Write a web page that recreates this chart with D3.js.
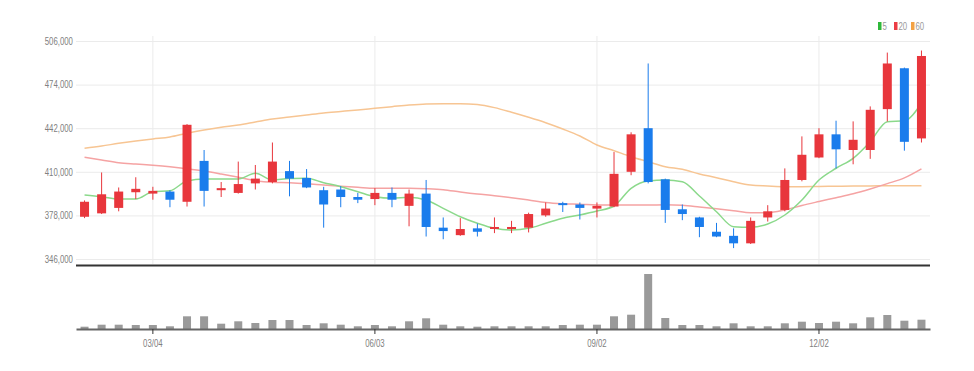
<!DOCTYPE html>
<html>
<head>
<meta charset="utf-8">
<script src="https://cdn.jsdelivr.net/npm/d3@7"></script>
<style>
  body { margin: 0; background: #fff; }
  .axis text { font-family: 'Liberation Sans', sans-serif; font-size: 10px; fill: #808080; }
  .legend text { font-family: 'Liberation Sans', sans-serif; font-size: 10px; fill: #999; }
</style>
</head>
<body>
<div class="candle-chart-container"></div>
<script>
// Weekly bars, Mondays 2024-02-05 .. 2025-01-13
const dates = ['02/05','02/12','02/19','02/26','03/04','03/11','03/18','03/25','04/01','04/08',
  '04/15','04/22','04/29','05/06','05/13','05/20','05/27','06/03','06/10','06/17',
  '06/24','07/01','07/08','07/15','07/22','07/29','08/05','08/12','08/19','08/26',
  '09/02','09/09','09/16','09/23','09/30','10/07','10/14','10/21','10/28','11/04',
  '11/11','11/18','11/25','12/02','12/09','12/16','12/23','12/30','01/06','01/13'];

const opens  = [377000,379500,383500,395000,394000,395500,388000,418000,396500,394500,
  401500,402500,410500,405500,396500,397000,391500,390000,394500,385000,
  394000,369000,363500,368500,368500,368000,369000,378000,387000,386000,
  383000,384500,410000,442000,404500,382500,376500,366000,363000,357500,
  376500,382000,404000,420500,437500,426000,426000,456000,486000,434500];
const highs  = [389000,409500,398500,406000,399000,396500,445000,426000,402500,417500,
  415000,431500,418000,412000,399000,399500,394500,398000,398500,397000,
  404000,376500,376000,372000,376500,374000,380000,387500,388000,387500,
  387500,424500,439000,489500,405000,386000,377000,372500,368500,376500,
  385500,412500,436000,442000,447500,447000,458000,497500,486500,499000];
const lows   = [376000,379000,381000,390000,389500,384000,384500,384500,391500,394000,
  397000,401500,392000,398000,369000,384000,387000,385500,384000,370000,
  362500,360500,363000,362500,365000,365000,365500,377000,380500,375000,
  376500,384000,407500,401500,372500,374500,362000,362000,354000,357000,
  373500,381000,403000,420000,412500,415500,419500,447000,425500,431500];
const closes = [388000,393500,395500,397500,396000,389500,444500,396000,398000,401000,
  405000,417500,405000,398500,386000,391500,389500,394500,389500,394000,
  369500,366500,368000,366000,369500,369500,379000,383000,386000,383500,
  385000,408500,437500,402500,382000,379000,369500,362500,357500,374000,
  381000,404000,422500,437500,426500,433500,455500,489500,432000,495000];
const volumes = [23000,43000,43000,40000,40000,27000,127000,127000,53000,77000,
  60000,90000,90000,40000,57000,43000,27000,40000,27000,77000,
  107000,43000,27000,23000,27000,27000,27000,27000,40000,43000,
  43000,127000,143000,550000,110000,40000,40000,27000,57000,27000,
  27000,57000,73000,60000,73000,57000,117000,140000,83000,93000];

// Moving averages as shown on the chart
const ma5  = [393000,391700,390000,390000,395400,396100,403300,404700,404700,404700,
  408900,404000,405100,405200,402000,399100,395400,391700,390600,391300,
  389300,383200,377000,372200,368500,367300,368500,372200,375900,378300,
  381200,384900,397900,403300,404000,402700,392200,380700,369700,369300,
  371700,378300,389300,404000,412600,419900,432100,446800,447500,460500];
const ma20 = [420600,418700,416700,415700,414800,413700,412300,410600,408400,406000,
  403500,402300,402000,401300,400300,399400,398600,397900,397900,397900,
  397600,396900,395200,393700,392500,391000,389300,387500,386600,386200,
  385600,385600,385600,385600,385800,385400,384200,382900,381500,380000,
  380000,382000,385300,388200,391000,393900,397400,401300,405500,412100];
const ma60 = [427300,428900,430900,432600,434100,435500,438300,440700,442700,444400,
  446600,448800,450200,451700,453200,454300,455400,456600,457800,459000,
  459800,460000,460000,459400,457100,453700,450000,446000,441400,436300,
  429700,425500,421100,417400,413700,411800,408400,405700,402700,400300,
  399600,399100,399100,399200,399400,399600,399600,399800,399800,399800];

const priceTicks = [346000,378000,410000,442000,474000,506000];
const dateTicks = ['03/04','06/03','09/02','12/02'];
const maNames = ['5','20','60'];
const maColors = ['#8bd98b','#f5a3a3','#f7c593'];
const maKeyColors = ['#2fb83a','#ec3c44','#f3a244'];

const chart = {};

// Text in the source is a narrow face; squeeze it horizontally.
chart.squeeze = 'scale(0.78, 1)';

chart.ready = function() {
  const width = 974, height = 371;
  const left = 76, right = 930;

  const svg = d3.select('.candle-chart-container')
    .append('svg')
    .attr('width', width)
    .attr('height', height);

  // Scales.
  const xScale = d3.scaleBand()
    .domain(dates)
    .range([left, right]);
  const xc = d => xScale(d) + xScale.bandwidth() / 2;

  const yScale = d3.scaleLinear()
    .domain([346000, 506000])
    .range([259, 41]);

  const vScale = d3.scaleLinear()
    .domain([0, 600000])
    .range([329, 269]);

  // Grid + y axis.
  const yAxis = d3.axisLeft(yScale)
    .tickValues(priceTicks)
    .tickFormat(d3.format(','))
    .tickSize(-(right - left))
    .tickPadding(4);

  const yAxisDraw = svg.append('g')
    .attr('class', 'y axis')
    .attr('transform', `translate(${left}, 0)`)
    .call(yAxis);
  yAxisDraw.select('.domain').remove();
  yAxisDraw.selectAll('line').attr('stroke', '#ebebeb');
  yAxisDraw.selectAll('text').attr('transform', chart.squeeze);

  // Vertical grid at date ticks.
  svg.append('g')
    .selectAll('line')
    .data(dateTicks)
    .enter()
    .append('line')
    .attr('x1', d => xc(d))
    .attr('x2', d => xc(d))
    .attr('y1', 36)
    .attr('y2', 264)
    .attr('stroke', '#ebebeb');

  const candles = dates.map((d, i) => ({
    date: d, open: opens[i], high: highs[i], low: lows[i], close: closes[i], volume: volumes[i]
  }));
  const candleColor = d => d.close >= d.open ? '#e8363c' : '#1a7cec';

  // Moving average lines.
  const lineGen = d3.line()
    .x(d => xc(d.date))
    .y(d => yScale(d.value))
    .curve(d3.curveMonotoneX);

  const maSeries = [ma5, ma20, ma60].map((vals, k) => ({
    name: maNames[k],
    color: maColors[k],
    key: maKeyColors[k],
    values: vals.map((v, i) => ({ date: dates[i], value: v }))
  }));

  svg.append('g')
    .selectAll('path')
    .data(maSeries.slice().reverse())
    .enter()
    .append('path')
    .attr('d', d => lineGen(d.values))
    .style('fill', 'none')
    .style('stroke', d => d.color)
    .style('stroke-width', 1.5);

  // Candles.
  const bodyW = 9;
  const candleG = svg.append('g')
    .selectAll('g')
    .data(candles)
    .enter()
    .append('g');

  candleG.append('line')
    .attr('x1', d => xc(d.date))
    .attr('x2', d => xc(d.date))
    .attr('y1', d => yScale(d.high))
    .attr('y2', d => yScale(d.low))
    .attr('stroke', candleColor)
    .attr('stroke-width', 1);

  candleG.append('rect')
    .attr('x', d => xc(d.date) - bodyW / 2)
    .attr('width', bodyW)
    .attr('y', d => yScale(Math.max(d.open, d.close)))
    .attr('height', d => Math.max(2, Math.abs(yScale(d.open) - yScale(d.close))))
    .attr('fill', candleColor);

  // Divider between panels.
  svg.append('line')
    .attr('x1', left).attr('x2', right)
    .attr('y1', 265.5).attr('y2', 265.5)
    .attr('stroke', '#333')
    .attr('stroke-width', 2);

  // Volume bars.
  svg.append('g')
    .selectAll('rect')
    .data(candles)
    .enter()
    .append('rect')
    .attr('x', d => xc(d.date) - 4)
    .attr('width', 8)
    .attr('y', d => vScale(d.volume))
    .attr('height', d => vScale(0) - vScale(d.volume))
    .attr('fill', '#9a9a9a');

  // X axis under volume.
  const xAxis = d3.axisBottom(xScale)
    .tickValues(dateTicks)
    .tickSize(5)
    .tickSizeOuter(0)
    .tickPadding(6);

  const xAxisDraw = svg.append('g')
    .attr('class', 'x axis')
    .attr('transform', `translate(0, 329)`)
    .call(xAxis);
  xAxisDraw.select('.domain').attr('stroke', '#666').attr('stroke-width', 2);
  xAxisDraw.selectAll('line').attr('stroke', '#333');
  xAxisDraw.selectAll('text').attr('transform', chart.squeeze);

  // Legend.
  const legend = svg.append('g')
    .attr('class', 'legend')
    .attr('transform', 'translate(878, 22)');
  const legendX = [0, 16, 33];
  maSeries.forEach((s, k) => {
    legend.append('rect')
      .attr('x', legendX[k])
      .attr('y', 0)
      .attr('width', 3.5)
      .attr('height', 8)
      .attr('fill', s.key);
    legend.append('text')
      .attr('transform', `translate(${legendX[k] + 4.5}, 8) ${chart.squeeze}`)
      .text(s.name);
  });
}

chart.ready();
</script>
</body>
</html>
